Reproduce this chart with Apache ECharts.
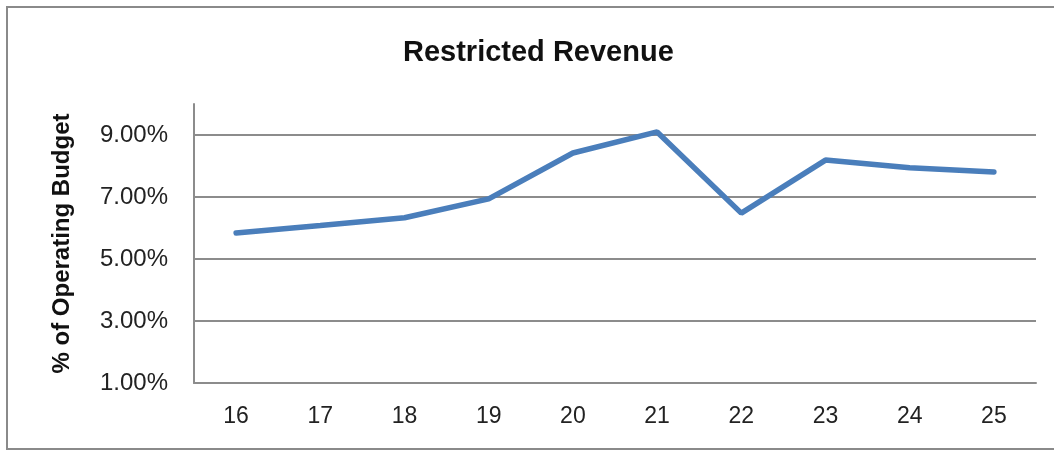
<!DOCTYPE html>
<html>
<head>
<meta charset="utf-8">
<script src="https://cdn.jsdelivr.net/npm/echarts@6/dist/echarts.min.js"></script>
<style>
  html, body { margin: 0; padding: 0; background: #fff; }
  #chart { width: 1054px; height: 451px; }
</style>
</head>
<body>
<div id="chart"></div>
<script>
// 数据
const categories = ['16', '17', '18', '19', '20', '21', '22', '23', '24', '25']
const restrictedRevenue = [5.84, 6.08, 6.33, 6.94, 8.42, 9.10, 6.48, 8.19, 7.94, 7.81]

const chart = echarts.init(document.getElementById('chart'))

const fontFamily = '"Liberation Sans", Arial, sans-serif'
const gridColor = '#8c8c8c'

chart.setOption({
  animation: false,
  title: {
    text: 'Restricted Revenue',
    left: 398,
    top: 33,
    textStyle: { fontFamily, fontSize: 29, fontWeight: 'bold', color: '#111' }
  },
  // 外框
  graphic: [{
    type: 'rect',
    shape: { x: 7, y: 7, width: 1070, height: 442 },
    style: { fill: 'none', stroke: '#8a8a8a', lineWidth: 2 },
    silent: true
  }],
  grid: { left: 194, right: 18, top: 104, bottom: 68 },
  xAxis: {
    type: 'category',
    data: categories,
    boundaryGap: true,
    axisLine: { lineStyle: { color: gridColor, width: 2 } },
    axisTick: { show: false },
    axisLabel: { fontFamily, fontSize: 23, color: '#222', margin: 22 }
  },
  yAxis: {
    type: 'value',
    min: 1,
    max: 10,
    interval: 2,
    name: '% of Operating Budget',
    nameLocation: 'middle',
    nameGap: 120,
    nameTextStyle: { fontFamily, fontSize: 24, fontWeight: 'bold', color: '#111' },
    axisLine: { show: true, lineStyle: { color: gridColor, width: 2 } },
    axisTick: { show: false },
    axisLabel: {
      fontFamily, fontSize: 24, color: '#222', margin: 26,
      showMaxLabel: false,
      formatter: v => v.toFixed(2) + '%'
    },
    splitLine: { showMaxLine: false, lineStyle: { color: gridColor, width: 2 } }
  },
  series: [{
    name: 'Restricted Revenue',
    type: 'line',
    data: restrictedRevenue,
    symbol: 'none',
    lineStyle: { color: '#4a7ebb', width: 5.5, cap: 'round' },
    itemStyle: { color: '#4a7ebb' }
  }]
})
</script>
</body>
</html>
